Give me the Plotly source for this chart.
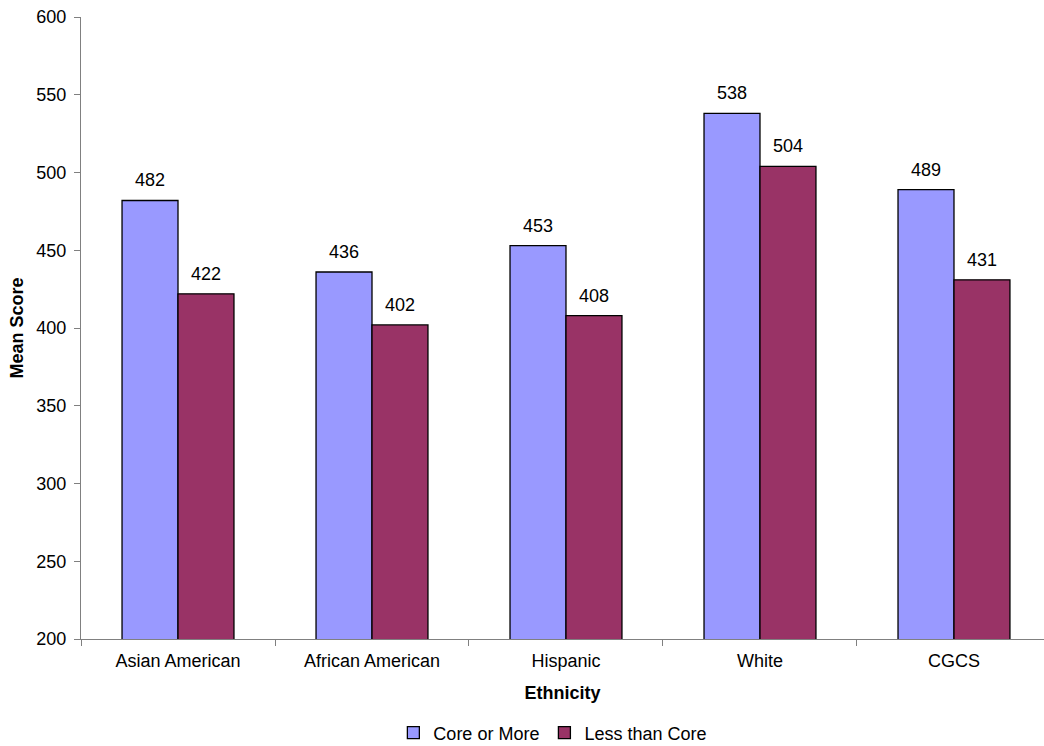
import plotly.graph_objects as go

categories = ["Asian American", "African American", "Hispanic", "White", "CGCS"]
core_or_more = [482, 436, 453, 538, 489]
less_than_core = [422, 402, 408, 504, 431]
y_ticks = [200, 250, 300, 350, 400, 450, 500, 550, 600]

font_family = "Liberation Sans, Arial, sans-serif"
fs = 18
bargap = 0.423
bar_offset = (1 - bargap) / 4  # centre of each bar within its group

fig = go.Figure()
fig.add_trace(go.Bar(
    name="Core or More", x=categories, y=core_or_more,
    marker=dict(color="#9999FF", line=dict(color="#000000", width=1.3)),
))
fig.add_trace(go.Bar(
    name="Less than Core", x=categories, y=less_than_core,
    marker=dict(color="#993366", line=dict(color="#000000", width=1.3)),
))

# value labels above each bar
for series, shift in ((core_or_more, -bar_offset), (less_than_core, bar_offset)):
    for i, v in enumerate(series):
        fig.add_annotation(
            x=i + shift, y=v, xref="x", yref="y", text=str(v),
            showarrow=False, yanchor="middle", yshift=20,
            font=dict(size=fs, color="#000000"),
        )

fig.update_layout(
    width=1044, height=746,
    margin=dict(l=81, r=0, t=17, b=107, autoexpand=False),
    paper_bgcolor="white", plot_bgcolor="white",
    font=dict(family=font_family, size=fs, color="#000000"),
    barmode="group", bargap=bargap, bargroupgap=0,
    showlegend=True,
    legend=dict(orientation="h", x=0.49, xanchor="center",
                yref="container", y=0.0174, yanchor="middle",
                font=dict(size=fs), traceorder="normal", itemwidth=30),
    xaxis=dict(
        type="category", range=[-0.5, 4.464], automargin=False,
        showline=True, linecolor="#808080", linewidth=1,
        ticks="outside", tickson="boundaries", ticklen=6, tickcolor="#808080",
        tickfont=dict(size=fs), ticklabelstandoff=5,
        title=dict(text="<b>Ethnicity</b>", font=dict(size=fs), standoff=16),
    ),
    yaxis=dict(
        range=[200, 600], tickvals=y_ticks, automargin=False,
        showline=True, linecolor="#808080", linewidth=1,
        ticks="outside", ticklen=6, tickcolor="#808080",
        showgrid=False, zeroline=False,
        tickfont=dict(size=fs), ticklabelstandoff=4,
        title=dict(text="<b>Mean Score</b>", font=dict(size=fs), standoff=8),
    ),
)

fig.write_html("out.html")
